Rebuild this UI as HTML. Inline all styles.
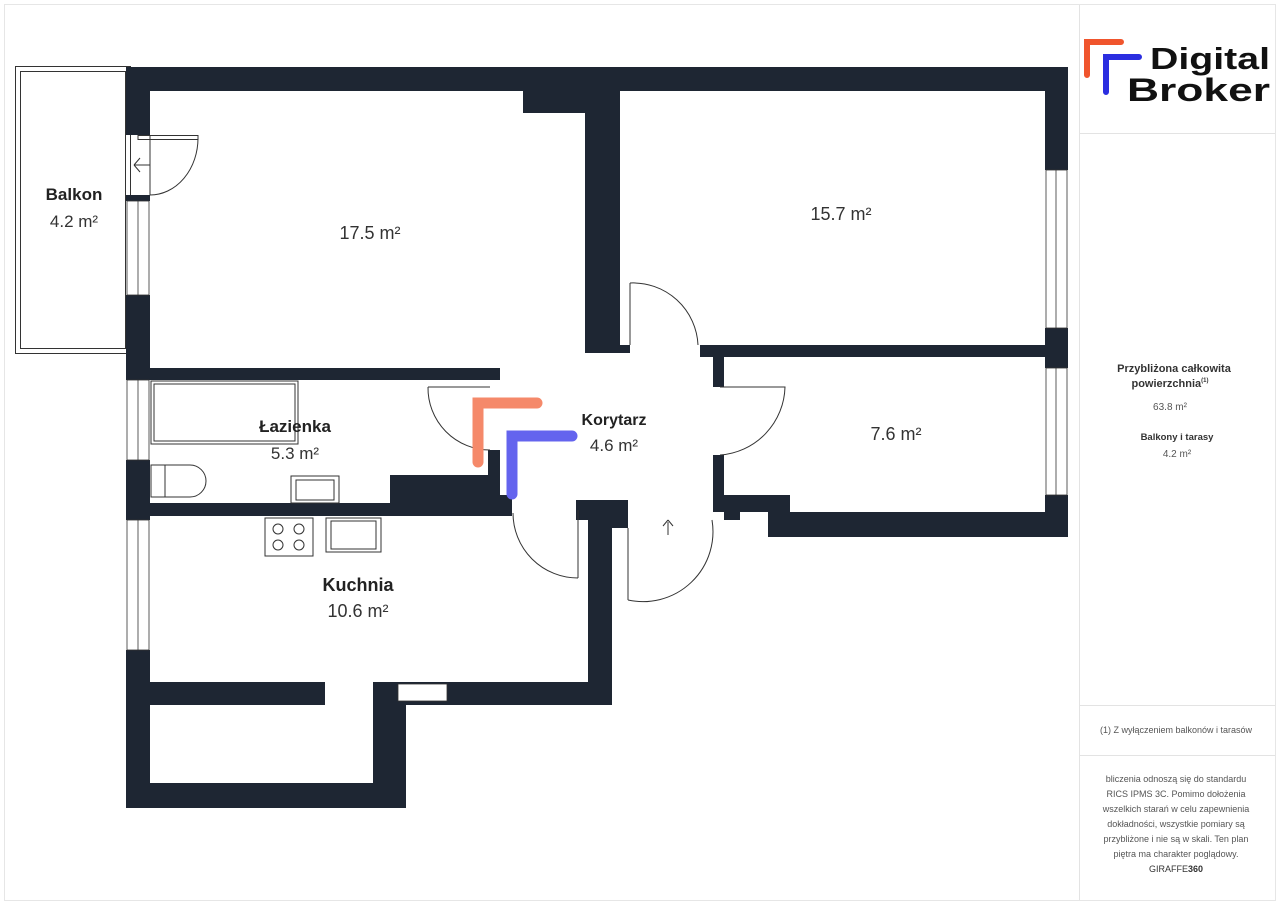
<!DOCTYPE html>
<html><head><meta charset="utf-8"><style>
body{margin:0;background:#fff;width:1280px;height:905px;overflow:hidden;font-family:"Liberation Sans",sans-serif}
</style></head><body>
<svg width="1280" height="905" viewBox="0 0 1280 905" xmlns="http://www.w3.org/2000/svg" style="position:absolute;left:0;top:0">
<rect x="4.5" y="4.5" width="1271" height="896" fill="none" stroke="#e6e6e6"/>
<line x1="1079.5" y1="5" x2="1079.5" y2="900" stroke="#e3e3e3"/>
<line x1="1080" y1="133.5" x2="1275" y2="133.5" stroke="#e3e3e3"/>
<line x1="1080" y1="705.5" x2="1275" y2="705.5" stroke="#e3e3e3"/>
<line x1="1080" y1="755.5" x2="1275" y2="755.5" stroke="#e3e3e3"/>
<!-- logo -->
<path d="M1087 75 V42 H1121" fill="none" stroke="#f0552d" stroke-width="6" stroke-linecap="round"/>
<path d="M1106 92 V57 H1139" fill="none" stroke="#2b2ee0" stroke-width="6" stroke-linecap="round"/>
<text x="1150" y="69" font-size="31" font-weight="bold" fill="#111" textLength="120" lengthAdjust="spacingAndGlyphs">Digital</text>
<text x="1127" y="101" font-size="32" font-weight="bold" fill="#111" textLength="143" lengthAdjust="spacingAndGlyphs">Broker</text>
<g font-family="Liberation Sans,sans-serif" text-anchor="middle" fill="#333">
<text x="1174" y="372" font-size="11" font-weight="bold">Przybliżona całkowita</text>
<text x="1170" y="387" font-size="11" font-weight="bold">powierzchnia<tspan font-size="6" dy="-5">(1)</tspan></text>
<text x="1170" y="410" font-size="10" fill="#555">63.8 m²</text>
<text x="1177" y="440" font-size="9.5" font-weight="bold">Balkony i tarasy</text>
<text x="1177" y="457" font-size="10" fill="#555">4.2 m²</text>
<text x="1176" y="733" font-size="9" fill="#555">(1) Z wyłączeniem balkonów i tarasów</text>
<g font-size="9" fill="#555">
<text x="1176" y="782">bliczenia odnoszą się do standardu</text>
<text x="1176" y="797">RICS IPMS 3C. Pomimo dołożenia</text>
<text x="1176" y="812">wszelkich starań w celu zapewnienia</text>
<text x="1176" y="827">dokładności, wszystkie pomiary są</text>
<text x="1176" y="842">przybliżone i nie są w skali. Ten plan</text>
<text x="1176" y="857">piętra ma charakter poglądowy.</text>
</g>
<text x="1176" y="872" font-size="9" fill="#333">GIRAFFE<tspan font-weight="bold">360</tspan></text>
</g>
<!-- balcony -->
<rect x="15.5" y="66.5" width="115" height="287" fill="none" stroke="#333"/>
<rect x="20.5" y="71.5" width="105" height="277" fill="none" stroke="#333"/>
<g fill="#1e2633">
<rect x="126" y="67" width="942" height="24"/>
<rect x="523" y="67" width="94" height="46"/>
<rect x="126" y="67" width="24" height="68"/>
<rect x="126" y="195" width="24" height="6"/>
<rect x="126" y="295" width="24" height="85"/>
<rect x="126" y="460" width="24" height="60"/>
<rect x="126" y="650" width="24" height="158"/>
<rect x="1045" y="67" width="23" height="103"/>
<rect x="1045" y="328" width="23" height="40"/>
<rect x="1045" y="495" width="23" height="42"/>
<rect x="585" y="91" width="35" height="262"/>
<rect x="620" y="345" width="10" height="8"/>
<rect x="126" y="368" width="374" height="12"/>
<rect x="700" y="345" width="368" height="12"/>
<rect x="713" y="345" width="11" height="42"/>
<rect x="713" y="455" width="11" height="57"/>
<rect x="724" y="495" width="66" height="17"/>
<rect x="768" y="512" width="300" height="25"/>
<rect x="724" y="512" width="16" height="8"/>
<rect x="126" y="503" width="385" height="13"/>
<rect x="390" y="475" width="110" height="30"/>
<rect x="488" y="450" width="12" height="55"/>
<rect x="500" y="495" width="12" height="21"/>
<rect x="588" y="503" width="24" height="202"/>
<rect x="576" y="500" width="52" height="20"/>
<rect x="612" y="500" width="16" height="28"/>
<rect x="150" y="682" width="175" height="23"/>
<rect x="373" y="682" width="239" height="23"/>
<rect x="373" y="682" width="33" height="126"/>
<rect x="126" y="783" width="280" height="25"/>
</g>
<rect x="398" y="684" width="49" height="17" fill="#fff" stroke="#333" stroke-width="0.8"/>
<g fill="#fff" stroke="#333" stroke-width="0.8">
<rect x="127" y="201" width="22" height="94"/><line x1="138" y1="201" x2="138" y2="295"/>
<rect x="127" y="380" width="22" height="80"/><line x1="138" y1="380" x2="138" y2="460"/>
<rect x="127" y="520" width="22" height="130"/><line x1="138" y1="520" x2="138" y2="650"/>
<rect x="1046" y="170" width="21" height="158"/><line x1="1056" y1="170" x2="1056" y2="328"/>
<rect x="1046" y="368" width="21" height="127"/><line x1="1056" y1="368" x2="1056" y2="495"/>
</g>
<g fill="none" stroke="#333" stroke-width="1">
<rect x="138" y="135.5" width="60" height="4"/>
<path d="M150 135 V195 M198 138 A48 57 0 0 1 150 195"/>
<path d="M134 165 H150 M134 165 L140 158 M134 165 L140 172"/>
<path d="M428 387 H490 M428 387 A62 62 0 0 0 490 450"/>
<path d="M630 283 V345 M630 283 A65 65 0 0 1 698 345"/>
<path d="M720 387 H785 A70 70 0 0 1 720 455"/>
<path d="M578 510 V578 M578 578 A65 65 0 0 1 513 513"/>
<path d="M628 528 V600 M628 600 A70 70 0 0 0 712 520"/>
<path d="M668 535 V522 M668 520 L663 526 M668 520 L673 526"/>
</g>
<g fill="none" stroke="#333" stroke-width="1">
<rect x="151" y="381" width="147" height="63"/><rect x="154" y="384" width="141" height="57"/>
<path d="M151 465 H190 A16 16 0 0 1 190 497 H151 Z"/><line x1="165" y1="465" x2="165" y2="497"/>
<rect x="291" y="476" width="48" height="27"/><rect x="296" y="480" width="38" height="20"/>
<rect x="265" y="518" width="48" height="38"/>
<circle cx="278" cy="529" r="5"/><circle cx="299" cy="529" r="5"/><circle cx="278" cy="545" r="5"/><circle cx="299" cy="545" r="5"/>
<rect x="326" y="518" width="55" height="34"/><rect x="331" y="521" width="45" height="28"/>
</g>
<path d="M478 462 V403 H537" fill="none" stroke="#f5896a" stroke-width="11" stroke-linecap="round"/>
<path d="M512 494 V436 H572" fill="none" stroke="#6464ee" stroke-width="11" stroke-linecap="round"/>
<g text-anchor="middle" fill="#222">
<text x="74" y="200" font-size="17" font-weight="bold">Balkon</text>
<text x="74" y="227" font-size="17" fill="#333">4.2 m²</text>
<text x="370" y="239" font-size="18" fill="#333">17.5 m²</text>
<text x="841" y="220" font-size="18" fill="#333">15.7 m²</text>
<text x="896" y="440" font-size="18" fill="#333">7.6 m²</text>
<text x="295" y="432" font-size="17" font-weight="bold">Łazienka</text>
<text x="295" y="459" font-size="17" fill="#333">5.3 m²</text>
<text x="614" y="425" font-size="16" font-weight="bold">Korytarz</text>
<text x="614" y="451" font-size="17" fill="#333">4.6 m²</text>
<text x="358" y="591" font-size="18" font-weight="bold">Kuchnia</text>
<text x="358" y="617" font-size="18" fill="#333">10.6 m²</text>
</g>
</svg>
</body></html>
